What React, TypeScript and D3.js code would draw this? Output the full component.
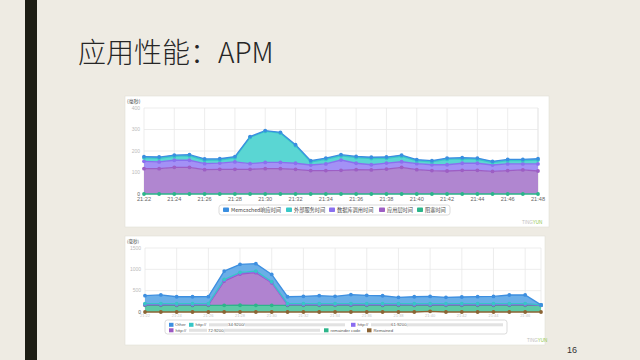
import React from 'react';
import * as d3 from 'd3';

// ---------- top chart data ----------
const topTimes = ['21:22','21:23','21:24','21:25','21:26','21:27','21:28','21:29','21:30','21:31','21:32','21:33','21:34','21:35','21:36','21:37','21:38','21:39','21:40','21:41','21:42','21:43','21:44','21:45','21:46','21:47','21:48'];
const topMemcached = [6,6,6,6,6,6,6,4,4,4,4,6,6,6,6,6,6,6,6,6,6,6,6,6,6,6,6];
const topExternal = [16,17,18,20,16,14,19,122,144,136,82,14,21,19,26,29,22,25,13,13,25,20,18,11,15,15,18];
const topDatabase = [34,31,33,33,28,29,34,26,29,29,28,26,31,48,30,24,28,26,28,27,29,33,33,30,31,28,33];
const topApp = [118,118,124,124,113,115,115,115,118,118,115,109,109,110,113,112,116,124,113,109,107,110,110,105,109,112,107];
const topBlocking = [0,0,0,0,0,0,0,0,0,0,0,0,0,0,0,0,0,0,0,0,0,0,0,0,0,0,0];
const topYTicks = [0, 100, 200, 300, 400];
const topSeriesNames = ['Memcached响应时间', '外部服务时间', '数据库调用时间', '应用层时间', '阻塞时间'];

// ---------- bottom chart data ----------
const bottomTimes = ['21:22','21:23','21:24','21:25','21:26','21:27','21:28','21:29','21:30','21:31','21:32','21:33','21:34','21:35','21:36','21:37','21:38','21:39','21:40','21:41','21:42','21:43','21:44','21:45','21:46','21:47'];
const bottomOther = [187,203,164,164,164,195,187,172,171,164,172,187,172,211,195,187,148,164,172,148,156,164,172,203,203,0];
const bottomHttp34 = [12,12,12,12,12,19,19,19,12,12,12,12,12,12,12,12,12,12,12,12,12,12,12,12,12,2];
const bottomHttp61 = [15,15,15,15,15,20,20,20,12,15,15,15,15,15,15,15,15,15,15,15,15,15,15,15,15,5];
const bottomHttp72 = [12,12,12,12,12,569,733,764,530,12,12,12,12,12,12,12,12,12,12,12,12,12,12,12,12,3];
const bottomRemainder = [156,158,154,155,156,156,158,157,156,155,156,157,156,158,156,155,156,154,140,156,157,156,155,156,158,156];
const bottomRemained = [0,0,0,0,0,0,0,0,0,0,0,0,0,0,0,0,0,0,15,0,0,0,0,0,0,0];
const bottomYTicks = [0, 500, 1000, 1500];

const FONT = '"Liberation Sans", "Noto Sans CJK SC", sans-serif';
const CJK = '"Noto Sans CJK SC", "Liberation Sans", sans-serif';

type Layer = { key: string; fill: string; stroke: string };

function StackChart(props: {
  times: string[];
  rows: Record<string, number>[];
  layers: Layer[]; // bottom to top
  xRange: [number, number];
  yDomain: [number, number];
  yRange: [number, number];
  yTicks: number[];
  xLabelY: number;
  xLabelSize: number;
  xLabelColor: string;
}) {
  const { times, rows, layers, xRange, yDomain, yRange, yTicks } = props;
  const x = d3.scalePoint<string>().domain(times).range(xRange);
  const y = d3.scaleLinear().domain(yDomain).range(yRange);
  const stack = d3.stack<Record<string, number>>().keys(layers.map(l => l.key));
  const series = stack(rows);
  const area = d3.area<any>()
    .x((_d, i) => x(times[i])!)
    .y0(d => y(d[0]))
    .y1(d => y(d[1]));
  const line = d3.line<any>()
    .x((_d, i) => x(times[i])!)
    .y(d => y(d[1]));
  const gridX = times.filter((_t, i) => i % 2 === 0);
  const [x0, x1] = xRange;
  return (
    <g>
      {yTicks.map(t => (
        <line key={'gy' + t} x1={x0} x2={x1} y1={y(t)} y2={y(t)} stroke="#e9e9e9" strokeWidth={0.8} />
      ))}
      {gridX.map(t => (
        <line key={'gx' + t} x1={x(t)} x2={x(t)} y1={yRange[1]} y2={yRange[0]} stroke="#e9e9e9" strokeWidth={0.8} />
      ))}
      <line x1={x1} x2={x1} y1={yRange[1]} y2={yRange[0]} stroke="#e9e9e9" strokeWidth={0.8} />
      {series.map((s, i) => (
        <path key={'a' + i} d={area(s as any)!} fill={layers[i].fill} />
      ))}
      {series.map((s, i) => (
        <path key={'l' + i} d={line(s as any)!} fill="none" stroke={layers[i].stroke} strokeWidth={1.3} />
      ))}
      {series.map((s, i) => (
        <g key={'m' + i}>
          {s.map((d, j) => (
            <circle key={j} cx={x(times[j])} cy={y(d[1])} r={1.9} fill={layers[i].stroke} />
          ))}
        </g>
      ))}
      {yTicks.map(t => (
        <text key={'yl' + t} x={x0 - 4} y={y(t)} dy="0.35em" textAnchor="end" fontSize={5} fontFamily={FONT}
          fill={t === 0 ? '#555' : '#bbb'}>{t}</text>
      ))}
      {gridX.map(t => (
        <text key={'xl' + t} x={x(t)} y={props.xLabelY} dy="0.35em" textAnchor="middle" fontSize={props.xLabelSize}
          fontFamily={FONT} fill={props.xLabelColor}>{t}</text>
      ))}
    </g>
  );
}

function Watermark({ x, y }: { x: number; y: number }) {
  return (
    <text x={x} y={y} fontSize={4.5} fontFamily={FONT} dy="0.35em">
      <tspan fill="#bdbdbd">TING</tspan><tspan fill="#8cc63f">YUN</tspan>
    </text>
  );
}

export default function App() {
  const topLayers: Layer[] = [
    { key: 'blk', fill: '#3dbf95', stroke: '#2bb58a' },
    { key: 'app', fill: '#b086d0', stroke: '#9d5ec4' },
    { key: 'db', fill: '#a391f6', stroke: '#8a70ef' },
    { key: 'ext', fill: '#5ad6d3', stroke: '#38c8c8' },
    { key: 'mc', fill: '#5aa6e8', stroke: '#3a8ee0' },
  ];
  const topRows = topTimes.map((_t, i) => ({
    blk: topBlocking[i], app: topApp[i], db: topDatabase[i], ext: topExternal[i], mc: topMemcached[i],
  }));
  const bottomLayers: Layer[] = [
    { key: 'remained', fill: '#a08058', stroke: '#8c6434' },
    { key: 'rem', fill: '#5ccaa5', stroke: '#2db58a' },
    { key: 'h72', fill: '#b083d0', stroke: '#9c58c2' },
    { key: 'h61', fill: '#a391f6', stroke: '#8a6cf0' },
    { key: 'h34', fill: '#5ad6d3', stroke: '#36c6c6' },
    { key: 'other', fill: '#6aaee8', stroke: '#3d8fe0' },
  ];
  const bottomRows = bottomTimes.map((_t, i) => ({
    remained: bottomRemained[i], rem: bottomRemainder[i], h72: bottomHttp72[i], h61: bottomHttp61[i],
    h34: bottomHttp34[i], other: bottomOther[i],
  }));

  // top legend items
  const topLegendColors = ['#3a8ee0', '#38c8c8', '#8a70ef', '#9d5ec4', '#2bb58a'];
  const topLegendX = [223, 286, 329, 379, 417];

  const gray = '#e2e2e2';
  return (
    <svg width={640} height={360} style={{ position: 'fixed', left: 0, top: 0 }}>
      <rect x={0} y={0} width={640} height={360} fill="#eeebe3" />
      <rect x={25} y={0} width={12} height={360} fill="#1d1d14" />
      <text x={78} y={63} fontSize={28} fontWeight={300} fontFamily={CJK} fill="#262626">应用性能：APM</text>

      {/* top panel */}
      <rect x={125} y={96} width={424} height={131} fill="#ffffff" stroke="#e2dfd7" strokeWidth={0.6} />
      <text x={127} y={101} dy="0.35em" fontSize={5} fontFamily={CJK} fill="#444">(毫秒)</text>
      <StackChart times={topTimes} rows={topRows} layers={topLayers} xRange={[144, 538]} yDomain={[0, 400]}
        yRange={[194, 108]} yTicks={topYTicks} xLabelY={199.5} xLabelSize={5.6} xLabelColor="#666" />
      <rect x={219} y={205} width={231} height={10} rx={2.5} fill="#fff" stroke="#c4c4c4" strokeWidth={0.6} />
      {topSeriesNames.map((n, i) => (
        <g key={n}>
          <rect x={topLegendX[i]} y={207.5} width={6} height={4.5} rx={0.8} fill={topLegendColors[i]} />
          <text x={topLegendX[i] + 8} y={210} dy="0.35em" fontSize={5.2} fontFamily={CJK} fill="#444">{n}</text>
        </g>
      ))}
      <Watermark x={522} y={222} />

      {/* bottom panel */}
      <rect x={125} y={236} width={420} height={109} fill="#ffffff" stroke="#e2dfd7" strokeWidth={0.6} />
      <text x={127} y={241} dy="0.35em" fontSize={4.5} fontFamily={CJK} fill="#444">(毫秒)</text>
      <StackChart times={bottomTimes} rows={bottomRows} layers={bottomLayers} xRange={[145, 541]} yDomain={[0, 1500]}
        yRange={[312, 248]} yTicks={bottomYTicks} xLabelY={315.5} xLabelSize={4} xLabelColor="#c4c4c4" />
      <rect x={165} y={320} width={342} height={14} rx={2.5} fill="#fff" stroke="#c4c4c4" strokeWidth={0.6} />
      <g fontSize={4.3} fontFamily={FONT} fill="#555">
        <rect x={169} y={322.8} width={4.5} height={4} fill="#3d8fe0" />
        <text x={175} y={324.8} dy="0.35em">Other</text>
        <rect x={189} y={322.8} width={4.5} height={4} fill="#36c6c6" />
        <text x={195.5} y={324.8} dy="0.35em">http://</text>
        <rect x={209} y={323.3} width={19} height={3} fill={gray} />
        <text x={228} y={324.8} dy="0.35em">34:9200/</text>
        <rect x={245} y={323.3} width={100} height={3} fill={gray} />
        <rect x={351} y={322.8} width={4.5} height={4} fill="#8a6cf0" />
        <text x={357.5} y={324.8} dy="0.35em">http://</text>
        <rect x={371} y={323.3} width={20} height={3} fill={gray} />
        <text x={391} y={324.8} dy="0.35em">61:9200,</text>
        <rect x={407} y={323.3} width={96} height={3} fill={gray} />
        <rect x={169} y={328.3} width={4.5} height={4} fill="#9c58c2" />
        <text x={175.5} y={330.3} dy="0.35em">http://</text>
        <rect x={189} y={328.8} width={18} height={3} fill={gray} />
        <text x={208} y={330.3} dy="0.35em">72:9200,</text>
        <rect x={224} y={328.8} width={96} height={3} fill={gray} />
        <rect x={324} y={328.3} width={4.5} height={4} fill="#2db58a" />
        <text x={330.5} y={330.3} dy="0.35em">remainder code</text>
        <rect x={367} y={328.3} width={4.5} height={4} fill="#8c6434" />
        <text x={373.5} y={330.3} dy="0.35em">Remained</text>
      </g>
      <Watermark x={527} y={340} />

      <text x={567} y={353} fontSize={9} fontFamily={FONT} fill="#333">16</text>
    </svg>
  );
}
